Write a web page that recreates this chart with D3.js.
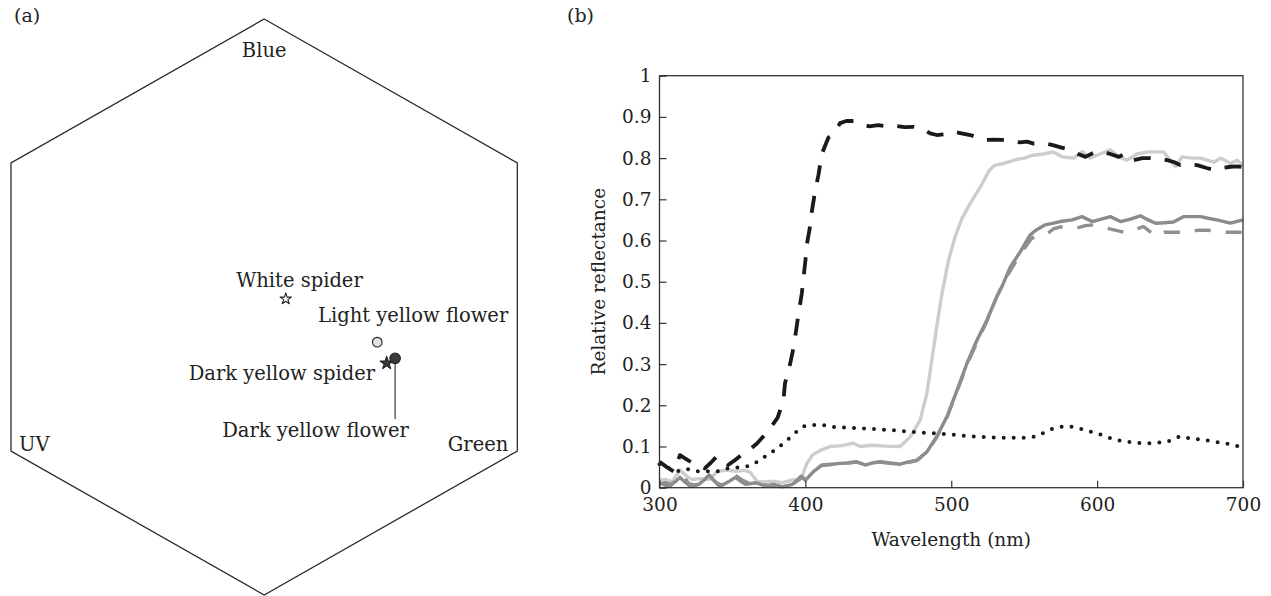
<!DOCTYPE html>
<html>
<head>
<meta charset="utf-8">
<script src="https://cdn.jsdelivr.net/npm/d3@7"></script>
<style>
  html, body { margin: 0; padding: 0; background: #fff; }
  svg { display: block; }
  text { font-family: "DejaVu Serif", "Liberation Serif", serif; fill: #222; }
</style>
</head>
<body>
<svg id="chart" width="1271" height="596"></svg>
<script>
// ---------------- DATA ----------------
// Panel (a): colour hexagon (unit coordinates)
const hexCorners = ["Blue", "Green", "UV"];
const hexPointNames = ["White spider", "Light yellow flower", "Dark yellow spider", "Dark yellow flower"];
const hexPointX = [0.074, 0.387, 0.419, 0.448];
const hexPointY = [0.028, -0.122, -0.195, -0.178];
const hexPointShape = ["star", "circle", "star", "circle"];
const hexPointFill = ["#ffffff", "#e2e2e2", "#3a3a3a", "#3a3a3a"];

// Panel (b): reflectance spectra  [wavelength nm, relative reflectance]
const seriesBlackDashed = [[300,0.063],[305,0.05],[310,0.039],[314,0.079],[318,0.07],[323,0.059],[327,0.055],[331,0.047],[335,0.06],[339,0.075],[343,0.07],[347,0.055],[351,0.065],[356,0.079],[361,0.09],[367,0.108],[374,0.136],[378,0.155],[381,0.17],[385,0.213],[386,0.253],[389.5,0.30],[392,0.342],[394,0.39],[395.2,0.42],[397.5,0.47],[398.7,0.51],[400,0.55],[401,0.59],[403,0.63],[404.4,0.67],[406.7,0.72],[409,0.76],[411.3,0.81],[415.8,0.85],[419,0.857],[423.8,0.885],[428,0.89],[433,0.89],[438,0.882],[444,0.877],[450,0.88],[456,0.877],[462,0.878],[468,0.875],[474,0.876],[480,0.872],[485.6,0.86],[490,0.856],[496,0.858],[501.6,0.864],[507,0.86],[513,0.856],[518,0.85],[523,0.844],[529,0.845],[535,0.844],[541,0.842],[547,0.838],[552,0.84],[556.5,0.835],[563,0.836],[569,0.832],[575,0.826],[581.7,0.82],[587,0.81],[592,0.803],[597.5,0.813],[603.4,0.816],[609,0.81],[614.8,0.803],[619.4,0.811],[625,0.795],[631,0.80],[636.5,0.80],[642,0.798],[648,0.795],[653,0.79],[657,0.783],[663,0.785],[668.6,0.783],[675,0.776],[681,0.771],[686,0.776],[691.4,0.779],[696,0.78],[700,0.778]];
const seriesDotted = [[300,0.057],[307,0.047],[314,0.04],[320,0.045],[327,0.04],[334,0.04],[340,0.04],[347,0.047],[354,0.049],[361,0.053],[367,0.063],[372,0.075],[378,0.089],[384,0.105],[388,0.117],[394,0.136],[400,0.15],[407,0.152],[414,0.151],[420,0.147],[434,0.145],[448,0.142],[462,0.139],[475,0.135],[489,0.132],[503,0.128],[517,0.124],[530,0.122],[544,0.121],[552,0.122],[559,0.125],[566,0.139],[573,0.146],[579,0.149],[586,0.146],[593,0.138],[600,0.132],[606,0.124],[613,0.116],[620,0.112],[627,0.109],[634,0.108],[641,0.109],[648,0.112],[654,0.121],[658,0.125],[665,0.118],[672,0.117],[679,0.112],[686,0.109],[693,0.104],[699,0.098]];
const seriesLightGray = [[300,0.019],[304,0.02],[309,0.015],[314,0.043],[318,0.03],[322,0.02],[328,0.022],[334,0.02],[340,0.04],[346,0.043],[352,0.04],[358,0.042],[362,0.038],[367,0.015],[372,0.014],[378,0.016],[384,0.012],[390,0.018],[395,0.02],[398,0.03],[401,0.059],[405,0.08],[410,0.09],[417,0.1],[425,0.102],[433,0.108],[437.6,0.1],[445,0.103],[455,0.101],[465,0.1],[472,0.124],[478.7,0.164],[483.3,0.229],[486.7,0.31],[490,0.39],[493.6,0.47],[498,0.55],[502.7,0.61],[507.3,0.653],[513,0.69],[520,0.73],[526,0.77],[530,0.783],[536,0.787],[545,0.797],[550,0.80],[556,0.807],[563,0.81],[570,0.815],[576,0.803],[584,0.80],[590,0.816],[595,0.80],[602,0.81],[609,0.82],[615,0.803],[620.5,0.795],[627.4,0.81],[635,0.815],[645.5,0.815],[653.7,0.779],[658.3,0.803],[665,0.80],[671,0.80],[680,0.79],[684.6,0.80],[691.4,0.787],[696,0.795],[700,0.782]];
const seriesGraySolid = [[300,0.012],[304,0.006],[307,0.004],[311,0.015],[314,0.025],[318,0.012],[321,0.004],[327,0.008],[331,0.02],[334,0.031],[338,0.015],[341,0.004],[345,0.01],[348,0.016],[352,0.025],[356,0.015],[359,0.008],[366,0.012],[373,0.004],[378,0.008],[384,0.002],[391,0.008],[396,0.02],[398,0.025],[400,0.018],[405.5,0.039],[411.3,0.055],[418,0.057],[423.8,0.059],[430,0.06],[435.3,0.063],[441,0.055],[446,0.06],[451.3,0.063],[458,0.06],[465,0.057],[470,0.062],[476.5,0.067],[483.3,0.087],[490,0.124],[497,0.172],[504,0.237],[510.8,0.302],[517.6,0.358],[524.5,0.407],[531.3,0.464],[535,0.49],[540.5,0.536],[547.4,0.573],[554,0.613],[558,0.625],[564.5,0.638],[570,0.642],[574.8,0.646],[582.8,0.65],[589.7,0.658],[596.5,0.646],[603,0.652],[609,0.658],[616,0.646],[622.8,0.652],[629.7,0.66],[635,0.65],[640,0.642],[646,0.643],[652.4,0.645],[659.4,0.658],[665,0.658],[671,0.658],[676,0.654],[682,0.65],[691.4,0.642],[700,0.65]];
const seriesGrayDashed = [[300,0.01],[304,0.012],[308,0.008],[312,0.02],[316,0.03],[320,0.01],[325,0.006],[330,0.018],[334,0.028],[339,0.012],[343,0.006],[348,0.02],[352,0.03],[357,0.018],[362,0.01],[368,0.01],[374,0.006],[380,0.005],[386,0.004],[392,0.01],[397,0.028],[400,0.02],[405.5,0.04],[411,0.054],[418,0.056],[424,0.058],[430,0.061],[435,0.062],[441,0.056],[446,0.061],[451,0.062],[458,0.059],[465,0.056],[470,0.061],[476.5,0.066],[483,0.085],[490,0.122],[497,0.17],[504,0.235],[511,0.3],[518,0.356],[524.5,0.405],[531,0.462],[536,0.5],[541,0.53],[547,0.565],[552,0.59],[555,0.605],[560,0.612],[565,0.614],[570,0.628],[575,0.633],[581,0.632],[586,0.63],[592,0.636],[597.6,0.638],[604,0.632],[610,0.627],[616,0.622],[621.5,0.62],[627,0.628],[631.8,0.634],[636,0.622],[641,0.61],[646,0.62],[652.5,0.62],[658,0.62],[664,0.623],[670,0.625],[675.4,0.625],[682,0.623],[689,0.62],[695,0.62],[700,0.62]];

const xTickValues = [300, 400, 500, 600, 700];
const xTickLabels = ["300", "400", "500", "600", "700"];
const yTickValues = [0, 0.1, 0.2, 0.3, 0.4, 0.5, 0.6, 0.7, 0.8, 0.9, 1];
const yTickLabels = ["0", "0.1", "0.2", "0.3", "0.4", "0.5", "0.6", "0.7", "0.8", "0.9", "1"];
const xAxisTitle = "Wavelength (nm)";
const yAxisTitle = "Relative reflectance";
const panelLabels = ["(a)", "(b)"];

// ---------------- DRAW ----------------
const svg = d3.select("#chart");
const FS = 18.5;   // panel (b) text
const FA = 19.5;   // panel (a) text

svg.append("rect").attr("width", 1271).attr("height", 596).attr("fill", "#fff");

// panel labels
svg.append("text").attr("x", 14).attr("y", 22).attr("font-size", 19).text(panelLabels[0]);
svg.append("text").attr("x", 567).attr("y", 22).attr("font-size", 19).text(panelLabels[1]);

// ---- Panel (a) ----
const C30 = Math.sqrt(3) / 2;
const hx = d3.scaleLinear().domain([-C30, C30]).range([11, 517.3]);
const hy = d3.scaleLinear().domain([-1, 1]).range([595, 19]);
const hexVerts = [[0, 1], [C30, 0.5], [C30, -0.5], [0, -1], [-C30, -0.5], [-C30, 0.5]];
svg.append("path")
  .attr("d", d3.line().x(d => hx(d[0])).y(d => hy(d[1])).curve(d3.curveLinearClosed)(hexVerts))
  .attr("fill", "none").attr("stroke", "#2a2a2a").attr("stroke-width", 1.3);

// corner labels
svg.append("text").attr("x", hx(0)).attr("y", 57).attr("text-anchor", "middle").attr("font-size", FA).text(hexCorners[0]);
svg.append("text").attr("x", hx(C30) - 9).attr("y", 451).attr("text-anchor", "end").attr("font-size", FA).text(hexCorners[1]);
svg.append("text").attr("x", hx(-C30) + 8).attr("y", 451).attr("text-anchor", "start").attr("font-size", FA).text(hexCorners[2]);

// connector line for dark yellow flower
svg.append("line")
  .attr("x1", hx(hexPointX[3])).attr("x2", hx(hexPointX[3]))
  .attr("y1", hy(hexPointY[3]) + 4).attr("y2", 419)
  .attr("stroke", "#444").attr("stroke-width", 1.3);

// points
hexPointNames.forEach((n, i) => {
  const px = hx(hexPointX[i]), py = hy(hexPointY[i]);
  if (hexPointShape[i] === "star") {
    svg.append("path")
      .attr("d", d3.symbol().type(d3.symbolStar).size(i === 0 ? 40 : 52)())
      .attr("transform", `translate(${px},${py})`)
      .attr("fill", hexPointFill[i]).attr("stroke", "#222").attr("stroke-width", 1.1)
      .attr("stroke-linejoin", "round");
  } else {
    svg.append("circle").attr("cx", px).attr("cy", py).attr("r", i === 1 ? 4.8 : 5.3)
      .attr("fill", hexPointFill[i]).attr("stroke", "#222").attr("stroke-width", 1.1);
  }
});

// point labels
svg.append("text").attr("x", 299.5).attr("y", 287).attr("text-anchor", "middle").attr("font-size", FA).text(hexPointNames[0]);
svg.append("text").attr("x", 318).attr("y", 322).attr("text-anchor", "start").attr("font-size", FA).text(hexPointNames[1]);
svg.append("text").attr("x", 375).attr("y", 380).attr("text-anchor", "end").attr("font-size", FA).text(hexPointNames[2]);
svg.append("text").attr("x", 315.5).attr("y", 437).attr("text-anchor", "middle").attr("font-size", FA).text(hexPointNames[3]);

// ---- Panel (b) ----
const L = 659.5, R = 1243, T = 75.7, B = 487.7;
const x = d3.scaleLinear().domain([300, 700]).range([L, R]);
const y = d3.scaleLinear().domain([0, 1]).range([B, T]);
const g = svg.append("g");

const line = d3.line().x(d => x(d[0])).y(d => y(d[1]));

g.append("path").datum(seriesLightGray).attr("d", line)
  .attr("fill", "none").attr("stroke", "#cdcdcd").attr("stroke-width", 3.4).attr("stroke-linejoin", "round");
g.append("path").datum(seriesGraySolid).attr("d", line)
  .attr("fill", "none").attr("stroke", "#8b8b8b").attr("stroke-width", 3.4).attr("stroke-linejoin", "round");
g.append("path").datum(seriesGrayDashed).attr("d", line)
  .attr("fill", "none").attr("stroke", "#8f8f8f").attr("stroke-width", 3.4)
  .attr("stroke-dasharray", "16,15").attr("stroke-linejoin", "round");
g.append("path").datum(seriesDotted).attr("d", d3.line().x(d => x(d[0])).y(d => y(d[1])).curve(d3.curveMonotoneX))
  .attr("fill", "none").attr("stroke", "#1a1a1a").attr("stroke-width", 4)
  .attr("stroke-dasharray", "0,10").attr("stroke-linecap", "round");
g.append("path").datum(seriesBlackDashed).attr("d", line)
  .attr("fill", "none").attr("stroke", "#1a1a1a").attr("stroke-width", 3.8)
  .attr("stroke-dasharray", "17,14").attr("stroke-linejoin", "round");

// axes
const xAxis = d3.axisBottom(x).tickValues(xTickValues)
  .tickFormat((d, i) => xTickLabels[i]).tickSizeInner(-7).tickSizeOuter(0).tickPadding(10);
const yAxis = d3.axisLeft(y).tickValues(yTickValues)
  .tickFormat((d, i) => yTickLabels[i]).tickSizeInner(-7).tickSizeOuter(0).tickPadding(8);

const gx = svg.append("g").attr("transform", `translate(0,${B})`).call(xAxis);
const gy = svg.append("g").attr("transform", `translate(${L},0)`).call(yAxis);
[gx, gy].forEach(a => {
  a.select(".domain").remove();
  a.selectAll(".tick line").attr("stroke", "#333").attr("stroke-width", 1.2);
  a.selectAll(".tick text").attr("font-family", "DejaVu Serif, Liberation Serif, serif")
    .attr("font-size", FS).attr("fill", "#222");
});

svg.append("rect").attr("x", L).attr("y", T).attr("width", R - L).attr("height", B - T)
  .attr("fill", "none").attr("stroke", "#333").attr("stroke-width", 1.3);

svg.append("text").attr("x", (L + R) / 2).attr("y", 546).attr("text-anchor", "middle")
  .attr("font-size", FS).text(xAxisTitle);
svg.append("text").attr("transform", `translate(605,${(T + B) / 2}) rotate(-90)`)
  .attr("text-anchor", "middle").attr("font-size", FS).text(yAxisTitle);
</script>
</body>
</html>
